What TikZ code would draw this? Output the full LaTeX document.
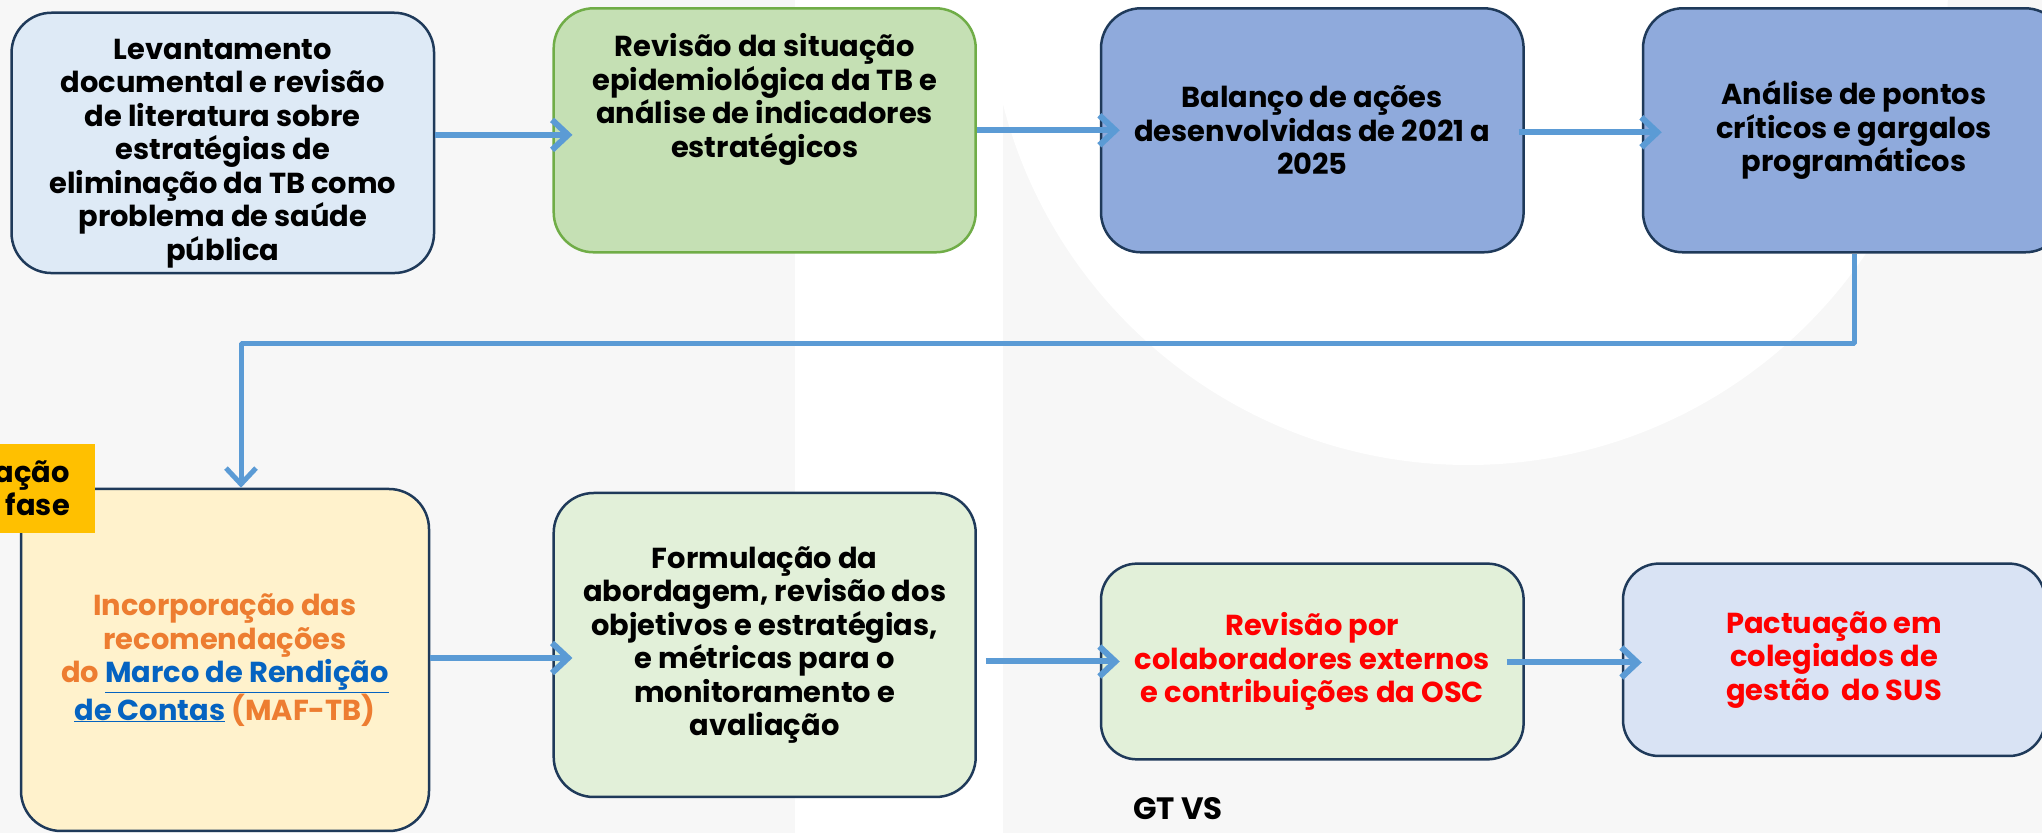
\documentclass[tikz,border=0pt]{standalone}
\usepackage{fontspec}
\setmainfont{Poppins}
\usetikzlibrary{arrows.meta}
\definecolor{navy}{HTML}{1F3A5A}
\definecolor{setacor}{HTML}{5B9BD5}
\definecolor{fundo}{HTML}{F7F7F7}
\definecolor{azulclaro}{HTML}{DEEAF6}
\definecolor{verde}{HTML}{C5E0B4}
\definecolor{verdeborda}{HTML}{70AD47}
\definecolor{azul}{HTML}{8FAADC}
\definecolor{amarelo}{HTML}{FFF2CC}
\definecolor{verdeclaro}{HTML}{E2F0D9}
\definecolor{azulsus}{HTML}{D9E3F4}
\definecolor{laranja}{HTML}{ED7D31}
\definecolor{link}{HTML}{0563C1}
\definecolor{tag}{HTML}{FFC000}
\begin{document}
\begin{tikzpicture}[>={Straight Barb[length=16bp,width=30bp]},line join=bevel,
  etapa/.style={draw=navy,line width=2.5bp,rounded corners=40bp,align=center,
    inner sep=0pt,font=\fontsize{29}{33.7}\selectfont\bfseries},
  seta/.style={setacor,line width=6bp,->,shorten >=-20bp},
]
\useasboundingbox (0,0) rectangle (2042bp,833bp);
%% fundo
\fill [fundo] (0,0) rectangle (2042bp,833bp);
\fill [white] (795bp,0) rectangle (1003bp,833bp);
\fill [white] (1468bp,848bp) circle (480bp);
%% etapas
\node (node_lev) at (222.8bp,690.1bp) [etapa,fill=azulclaro,minimum width=422.5bp,minimum height=260.3bp,text height=243bp] {Levantamento\\documental e revisão\\de literatura sobre\\estratégias de\\eliminação da TB como\\problema de saúde\\pública};
  \node (node_rev) at (764.7bp,702.7bp) [etapa,fill=verde,draw=verdeborda,minimum width=422bp,minimum height=244bp,text depth=70bp] {Revisão da situação\\epidemiológica da TB e\\análise de indicadores\\estratégicos};
  \node (node_bal) at (1312.3bp,702.7bp) [etapa,fill=azul,minimum width=422.6bp,minimum height=244bp] {Balanço de ações\\desenvolvidas de 2021 a\\2025};
  \node (node_ana) at (1854bp,702.7bp) [etapa,fill=azul,minimum width=422bp,minimum height=244bp] {Análise de pontos\\críticos e gargalos\\programáticos};
  \node (node_inc) at (225bp,173bp) [etapa,fill=amarelo,text=laranja,minimum width=408bp,minimum height=342bp] {Incorporação das\\recomendações\\do {\color{link}\underline{Marco de Rendição}}\\{\color{link}\underline{de Contas}} (MAF-TB)};
  \node (node_for) at (764.7bp,188bp) [etapa,fill=verdeclaro,minimum width=422bp,minimum height=304bp] {Formulação da\\abordagem, revisão dos\\objetivos e estratégias,\\e métricas para o\\monitoramento e\\avaliação};
  \node (node_col) at (1312.3bp,171.5bp) [etapa,fill=verdeclaro,text=red,minimum width=422.6bp,minimum height=195.7bp,rounded corners=36bp] {Revisão por\\colaboradores externos\\e contribuições da OSC};
  \node (node_pac) at (1834bp,173.2bp) [etapa,fill=azulsus,text=red,minimum width=422bp,minimum height=192.4bp,rounded corners=36bp] {Pactuação em\\colegiados de\\gestão\ \ do SUS};
%% fase e grupo
\node (node_fase) at (95bp,344.7bp) [anchor=east,fill=tag,minimum height=89.4bp,inner xsep=25bp,text width=150bp,align=right,font=\fontsize{29}{33.7}\selectfont\bfseries] {ação\\fase};
  \node (node_gt) at (1178bp,24bp) [font=\fontsize{31}{36}\selectfont\bfseries] {GT VS};
%% setas
\draw [seta] ([yshift=8bp]node_lev.east) -- ([yshift=8bp]node_lev.east -| node_rev.west);
  \draw [seta] (node_rev.east) -- (node_rev.east -| node_bal.west);
  \draw [seta] ([xshift=-6bp,yshift=-2bp]node_bal.east) -- ([yshift=-2bp]node_bal.east -| node_ana.west);
  \draw [seta,line width=5bp,shorten >=0bp] (node_ana.south) -- ++(0,-90bp) -| ([xshift=16bp]node_inc.north);
  \draw [seta] ([yshift=2bp]node_inc.east) -- ([yshift=2bp]node_inc.east -| node_for.west);
  \draw [seta,shorten <=9bp] (node_for.east |- node_col.west) -- (node_col.west);
  \draw [seta] ([xshift=-18bp,yshift=-1bp]node_col.east) -- ([yshift=-1bp]node_col.east -| node_pac.west);
%
\end{tikzpicture}
\end{document}
